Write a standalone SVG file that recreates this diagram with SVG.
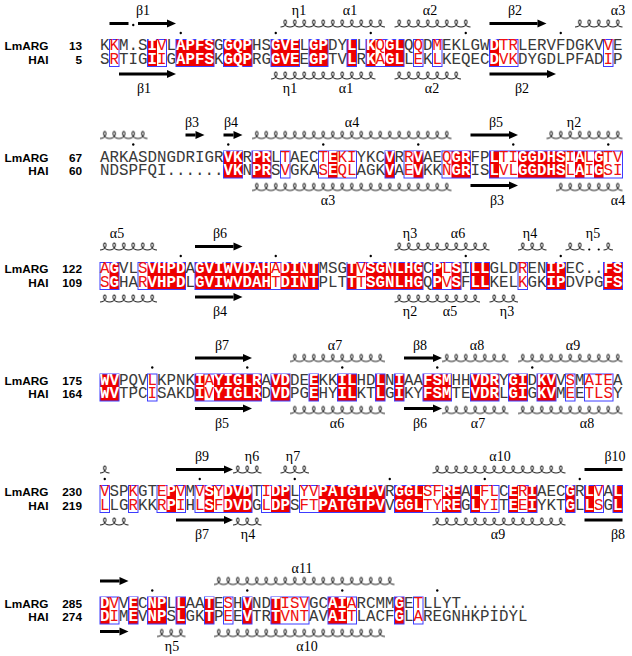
<svg xmlns="http://www.w3.org/2000/svg" width="632" height="656" viewBox="0 0 632 656">
<style>
.seq{font-family:"Liberation Mono","Courier New",monospace;font-size:15.83px;fill:#3a3a3a}
.s{fill:#f01010}
.w{fill:#fff;font-weight:bold}
.lab{font-family:"Liberation Sans",Arial,sans-serif;font-weight:bold;font-size:11.8px;fill:#000;text-anchor:end}
.ss{font-family:"Liberation Serif","Times New Roman",serif;font-size:14px;fill:#000;text-anchor:middle}
.id{fill:#ee0000}
.fr{fill:none;stroke:#3c3cff;stroke-width:1}
.a{stroke:#000;stroke-width:3}
.ct{fill:url(#cT)}
.cb{fill:url(#cB)}
.d{fill:#000}
</style>
<defs>
<pattern id="cT" patternUnits="userSpaceOnUse" x="100" y="18" width="9.5" height="12"><path d="M0,9c2.52,0 4.883,-1.667 5.675,-3.5c0.792,-1.833 0.011,-3.5 -0.925,-3.5c-0.936,0 -1.717,1.667 -0.925,3.5c0.792,1.833 3.155,3.5 5.675,3.5" fill="none" stroke="#222" stroke-width="1"/></pattern>
<pattern id="cB" patternUnits="userSpaceOnUse" x="100" y="70" width="9.5" height="12"><path d="M0,9c2.52,0 4.883,-1.667 5.675,-3.5c0.792,-1.833 0.011,-3.5 -0.925,-3.5c-0.936,0 -1.717,1.667 -0.925,3.5c0.792,1.833 3.155,3.5 5.675,3.5" fill="none" stroke="#222" stroke-width="1"/></pattern>
<marker id="ah" markerUnits="userSpaceOnUse" markerWidth="9" markerHeight="9" refX="0" refY="4.5" orient="auto" overflow="visible"><path d="M0,0.5L9,4.5L0,8.5z" fill="#000"/></marker>
</defs>
<rect width="632" height="656" fill="#fff"/>

<g id="block1">
<g class="id"><rect x="147.5" y="39.5" width="9.5" height="27"/><rect x="176" y="39.5" width="38" height="27"/><rect x="223.5" y="39.5" width="28.5" height="27"/><rect x="271" y="39.5" width="28.5" height="27"/><rect x="309" y="39.5" width="19" height="27"/><rect x="347" y="39.5" width="9.5" height="27"/><rect x="366" y="39.5" width="9.5" height="27"/><rect x="385" y="39.5" width="19" height="27"/><rect x="489.5" y="39.5" width="9.5" height="27"/></g>
<g class="fr"><rect x="109.5" y="39.5" width="9.5" height="27"/><rect x="147.5" y="39.5" width="19" height="27"/><rect x="176" y="39.5" width="38" height="27"/><rect x="223.5" y="39.5" width="28.5" height="27"/><rect x="271" y="39.5" width="28.5" height="27"/><rect x="309" y="39.5" width="19" height="27"/><rect x="347" y="39.5" width="9.5" height="27"/><rect x="366" y="39.5" width="38" height="27"/><rect x="413.5" y="39.5" width="9.5" height="27"/><rect x="432.5" y="39.5" width="9.5" height="27"/><rect x="489.5" y="39.5" width="28.5" height="27"/><rect x="603.5" y="39.5" width="9.5" height="27"/></g>
<text class="lab" x="48.5" y="50">LmARG</text><text class="lab" x="82" y="50">13</text>
<text class="lab" x="48.5" y="63.5">HAI</text><text class="lab" x="82" y="63.5">5</text>
<text class="seq" y="50"><tspan x="100">K</tspan><tspan x="109.5" class="s">K</tspan><tspan x="119">M.S</tspan><tspan x="147.5" class="w">I</tspan><tspan x="157" class="s">V</tspan><tspan x="166.5">L</tspan><tspan x="176" class="w">APFS</tspan><tspan x="214">G</tspan><tspan x="223.5" class="w">GQP</tspan><tspan x="252">HS</tspan><tspan x="271" class="w">GVE</tspan><tspan x="299.5">L</tspan><tspan x="309" class="w">GP</tspan><tspan x="328">DY</tspan><tspan x="347" class="w">L</tspan><tspan x="356.5">L</tspan><tspan x="366" class="w">K</tspan><tspan x="375.5" class="s">Q</tspan><tspan x="385" class="w">GL</tspan><tspan x="404">Q</tspan><tspan x="413.5" class="s">Q</tspan><tspan x="423">D</tspan><tspan x="432.5" class="s">M</tspan><tspan x="442">EKLGW</tspan><tspan x="489.5" class="w">D</tspan><tspan x="499" class="s">TR</tspan><tspan x="518">LERVFDGKV</tspan><tspan x="603.5" class="s">V</tspan><tspan x="613">E</tspan></text>
<text class="seq" y="63.5"><tspan x="100">S</tspan><tspan x="109.5" class="s">R</tspan><tspan x="119">TIG</tspan><tspan x="147.5" class="w">I</tspan><tspan x="157" class="s">I</tspan><tspan x="166.5">G</tspan><tspan x="176" class="w">APFS</tspan><tspan x="214">K</tspan><tspan x="223.5" class="w">GQP</tspan><tspan x="252">RG</tspan><tspan x="271" class="w">GVE</tspan><tspan x="299.5">E</tspan><tspan x="309" class="w">GP</tspan><tspan x="328">TV</tspan><tspan x="347" class="w">L</tspan><tspan x="356.5">R</tspan><tspan x="366" class="w">K</tspan><tspan x="375.5" class="s">A</tspan><tspan x="385" class="w">GL</tspan><tspan x="404">L</tspan><tspan x="413.5" class="s">E</tspan><tspan x="423">K</tspan><tspan x="432.5" class="s">L</tspan><tspan x="442">KEQEC</tspan><tspan x="489.5" class="w">D</tspan><tspan x="499" class="s">VK</tspan><tspan x="518">DYGDLPFAD</tspan><tspan x="603.5" class="s">I</tspan><tspan x="613">P</tspan></text>
<g class="d"><circle cx="180.75" cy="33" r="1.2"/><circle cx="275.75" cy="33" r="1.2"/><circle cx="370.75" cy="33" r="1.2"/><circle cx="465.75" cy="33" r="1.2"/><circle cx="560.75" cy="33" r="1.2"/><circle cx="133.25" cy="25" r="1.2"/></g>
<g class="sstop">
<line class="a" x1="109.5" y1="23.5" x2="128.5" y2="23.5"/>
<line class="a" x1="138" y1="23.5" x2="167" y2="23.5" marker-end="url(#ah)"/>
<rect class="ct" x="280.5" y="18" width="104.5" height="12"/>
<rect class="ct" x="394.5" y="18" width="76" height="12"/>
<line class="a" x1="489.5" y1="23.5" x2="537.5" y2="23.5" marker-end="url(#ah)"/>
<rect class="ct" x="575" y="18" width="47.5" height="12"/>
<text class="ss" x="143" y="15">β1</text><text class="ss" x="299" y="15">η1</text><text class="ss" x="350" y="15">α1</text><text class="ss" x="430" y="15">α2</text><text class="ss" x="515" y="15">β2</text><text class="ss" x="618" y="15">α3</text>
</g>
<g class="ssbot">
<line class="a" x1="119" y1="74" x2="167" y2="74" marker-end="url(#ah)"/>
<rect class="cb" x="271" y="70" width="104.5" height="12"/>
<rect class="cb" x="394.5" y="70" width="66.5" height="12"/>
<line class="a" x1="489.5" y1="74" x2="547" y2="74" marker-end="url(#ah)"/>
<text class="ss" x="144" y="93">β1</text><text class="ss" x="290" y="93">η1</text><text class="ss" x="346" y="93">α1</text><text class="ss" x="432" y="93">α2</text><text class="ss" x="522" y="93">β2</text>
</g>
</g>

<g id="block2" transform="translate(0,111.5)">
<g class="id"><rect x="223.5" y="39.5" width="19" height="27"/><rect x="252" y="39.5" width="19" height="27"/><rect x="328" y="39.5" width="9.5" height="27"/><rect x="385" y="39.5" width="9.5" height="27"/><rect x="413.5" y="39.5" width="9.5" height="27"/><rect x="451.5" y="39.5" width="19" height="27"/><rect x="489.5" y="39.5" width="9.5" height="27"/><rect x="518" y="39.5" width="47.5" height="27"/><rect x="575" y="39.5" width="9.5" height="27"/><rect x="594" y="39.5" width="9.5" height="27"/></g>
<g class="fr"><rect x="223.5" y="39.5" width="19" height="27"/><rect x="252" y="39.5" width="19" height="27"/><rect x="280.5" y="39.5" width="9.5" height="27"/><rect x="318.5" y="39.5" width="38" height="27"/><rect x="385" y="39.5" width="9.5" height="27"/><rect x="404" y="39.5" width="19" height="27"/><rect x="442" y="39.5" width="28.5" height="27"/><rect x="489.5" y="39.5" width="133" height="27"/></g>
<text class="lab" x="48.5" y="50">LmARG</text><text class="lab" x="82" y="50">67</text>
<text class="lab" x="48.5" y="63.5">HAI</text><text class="lab" x="82" y="63.5">60</text>
<text class="seq" y="50"><tspan x="100">ARKASDNGDRIGR</tspan><tspan x="223.5" class="w">VK</tspan><tspan x="242.5">R</tspan><tspan x="252" class="w">PR</tspan><tspan x="271">L</tspan><tspan x="280.5" class="s">T</tspan><tspan x="290">AEC</tspan><tspan x="318.5" class="s">T</tspan><tspan x="328" class="w">E</tspan><tspan x="337.5" class="s">KI</tspan><tspan x="356.5">YKC</tspan><tspan x="385" class="w">V</tspan><tspan x="394.5">R</tspan><tspan x="404" class="s">R</tspan><tspan x="413.5" class="w">V</tspan><tspan x="423">AE</tspan><tspan x="442" class="s">Q</tspan><tspan x="451.5" class="w">GR</tspan><tspan x="470.5">FP</tspan><tspan x="489.5" class="w">L</tspan><tspan x="499" class="s">TI</tspan><tspan x="518" class="w">GGDHS</tspan><tspan x="565.5" class="s">I</tspan><tspan x="575" class="w">A</tspan><tspan x="584.5" class="s">L</tspan><tspan x="594" class="w">G</tspan><tspan x="603.5" class="s">TV</tspan></text>
<text class="seq" y="63.5"><tspan x="100">NDSPFQI......</tspan><tspan x="223.5" class="w">VK</tspan><tspan x="242.5">N</tspan><tspan x="252" class="w">PR</tspan><tspan x="271">S</tspan><tspan x="280.5" class="s">V</tspan><tspan x="290">GKA</tspan><tspan x="318.5" class="s">S</tspan><tspan x="328" class="w">E</tspan><tspan x="337.5" class="s">QL</tspan><tspan x="356.5">AGK</tspan><tspan x="385" class="w">V</tspan><tspan x="394.5">A</tspan><tspan x="404" class="s">E</tspan><tspan x="413.5" class="w">V</tspan><tspan x="423">KK</tspan><tspan x="442" class="s">N</tspan><tspan x="451.5" class="w">GR</tspan><tspan x="470.5">IS</tspan><tspan x="489.5" class="w">L</tspan><tspan x="499" class="s">VL</tspan><tspan x="518" class="w">GGDHS</tspan><tspan x="565.5" class="s">L</tspan><tspan x="575" class="w">A</tspan><tspan x="584.5" class="s">I</tspan><tspan x="594" class="w">G</tspan><tspan x="603.5" class="s">SI</tspan></text>
<g class="d"><circle cx="133.25" cy="33" r="1.2"/><circle cx="228.25" cy="33" r="1.2"/><circle cx="323.25" cy="33" r="1.2"/><circle cx="418.25" cy="33" r="1.2"/><circle cx="513.25" cy="33" r="1.2"/><circle cx="608.25" cy="33" r="1.2"/></g>
<g class="sstop">
<rect class="ct" x="100" y="18" width="47.5" height="12"/>
<line class="a" x1="185.5" y1="23.5" x2="195.5" y2="23.5" marker-end="url(#ah)"/>
<line class="a" x1="223.5" y1="23.5" x2="233.5" y2="23.5" marker-end="url(#ah)"/>
<rect class="ct" x="252" y="18" width="199.5" height="12"/>
<line class="a" x1="470.5" y1="23.5" x2="509" y2="23.5" marker-end="url(#ah)"/>
<rect class="ct" x="546.5" y="18" width="76" height="12"/>
<text class="ss" x="192" y="15">β3</text><text class="ss" x="231" y="15">β4</text><text class="ss" x="352" y="15">α4</text><text class="ss" x="496" y="15">β5</text><text class="ss" x="574" y="15">η2</text>
</g>
<g class="ssbot">
<rect class="cb" x="252" y="70" width="199.5" height="12"/>
<line class="a" x1="470.5" y1="74" x2="509" y2="74" marker-end="url(#ah)"/>
<rect class="cb" x="556" y="70" width="66.5" height="12"/>
<text class="ss" x="328" y="93">α3</text><text class="ss" x="497" y="93">β3</text><text class="ss" x="618" y="93">α4</text>
</g>
</g>

<g id="block3" transform="translate(0,223)">
<g class="id"><rect x="109.5" y="39.5" width="9.5" height="27"/><rect x="147.5" y="39.5" width="38" height="27"/><rect x="195" y="39.5" width="76" height="27"/><rect x="280.5" y="39.5" width="38" height="27"/><rect x="347" y="39.5" width="9.5" height="27"/><rect x="366" y="39.5" width="57" height="27"/><rect x="432.5" y="39.5" width="9.5" height="27"/><rect x="451.5" y="39.5" width="9.5" height="27"/><rect x="470.5" y="39.5" width="19" height="27"/><rect x="546.5" y="39.5" width="19" height="27"/><rect x="603.5" y="39.5" width="19" height="27"/></g>
<g class="fr"><rect x="100" y="39.5" width="19" height="27"/><rect x="138" y="39.5" width="47.5" height="27"/><rect x="195" y="39.5" width="123.5" height="27"/><rect x="347" y="39.5" width="76" height="27"/><rect x="432.5" y="39.5" width="28.5" height="27"/><rect x="470.5" y="39.5" width="19" height="27"/><rect x="518" y="39.5" width="9.5" height="27"/><rect x="546.5" y="39.5" width="19" height="27"/><rect x="603.5" y="39.5" width="19" height="27"/></g>
<text class="lab" x="48.5" y="50">LmARG</text><text class="lab" x="82" y="50">122</text>
<text class="lab" x="48.5" y="63.5">HAI</text><text class="lab" x="82" y="63.5">109</text>
<text class="seq" y="50"><tspan x="100" class="s">A</tspan><tspan x="109.5" class="w">G</tspan><tspan x="119">VL</tspan><tspan x="138" class="s">S</tspan><tspan x="147.5" class="w">VHPD</tspan><tspan x="185.5">A</tspan><tspan x="195" class="w">GVIWVDAH</tspan><tspan x="271" class="s">A</tspan><tspan x="280.5" class="w">DINT</tspan><tspan x="318.5">MSG</tspan><tspan x="347" class="w">T</tspan><tspan x="356.5" class="s">V</tspan><tspan x="366" class="w">SGNLHG</tspan><tspan x="423">C</tspan><tspan x="432.5" class="w">P</tspan><tspan x="442" class="s">L</tspan><tspan x="451.5" class="w">S</tspan><tspan x="461">I</tspan><tspan x="470.5" class="w">LL</tspan><tspan x="489.5">GLD</tspan><tspan x="518" class="s">R</tspan><tspan x="527.5">EN</tspan><tspan x="546.5" class="w">IP</tspan><tspan x="565.5">EC..</tspan><tspan x="603.5" class="w">FS</tspan></text>
<text class="seq" y="63.5"><tspan x="100" class="s">S</tspan><tspan x="109.5" class="w">G</tspan><tspan x="119">HA</tspan><tspan x="138" class="s">R</tspan><tspan x="147.5" class="w">VHPD</tspan><tspan x="185.5">L</tspan><tspan x="195" class="w">GVIWVDAH</tspan><tspan x="271" class="s">T</tspan><tspan x="280.5" class="w">DINT</tspan><tspan x="318.5">PLT</tspan><tspan x="347" class="w">T</tspan><tspan x="356.5" class="s">T</tspan><tspan x="366" class="w">SGNLHG</tspan><tspan x="423">Q</tspan><tspan x="432.5" class="w">P</tspan><tspan x="442" class="s">V</tspan><tspan x="451.5" class="w">S</tspan><tspan x="461">F</tspan><tspan x="470.5" class="w">LL</tspan><tspan x="489.5">KEL</tspan><tspan x="518" class="s">K</tspan><tspan x="527.5">GK</tspan><tspan x="546.5" class="w">IP</tspan><tspan x="565.5">DVPG</tspan><tspan x="603.5" class="w">FS</tspan></text>
<g class="d"><circle cx="180.75" cy="33" r="1.2"/><circle cx="275.75" cy="33" r="1.2"/><circle cx="370.75" cy="33" r="1.2"/><circle cx="465.75" cy="33" r="1.2"/><circle cx="560.75" cy="33" r="1.2"/><circle cx="589.25" cy="26.5" r="1.1"/><circle cx="598.75" cy="26.5" r="1.1"/></g>
<g class="sstop">
<rect class="ct" x="100" y="18" width="57" height="12"/>
<line class="a" x1="195" y1="23.5" x2="233.5" y2="23.5" marker-end="url(#ah)"/>
<rect class="ct" x="394.5" y="18" width="95" height="12"/>
<rect class="ct" x="518" y="18" width="28.5" height="12"/>
<rect class="ct" x="565.5" y="18" width="19" height="12"/>
<rect class="ct" x="603.5" y="18" width="9.5" height="12"/>
<text class="ss" x="117" y="15">α5</text><text class="ss" x="220" y="15">β6</text><text class="ss" x="410" y="15">η3</text><text class="ss" x="458" y="15">α6</text><text class="ss" x="530" y="15">η4</text><text class="ss" x="593" y="15">η5</text>
</g>
<g class="ssbot">
<rect class="cb" x="100" y="70" width="57" height="12"/>
<line class="a" x1="195" y1="74" x2="233.5" y2="74" marker-end="url(#ah)"/>
<rect class="cb" x="394.5" y="70" width="85.5" height="12"/>
<rect class="cb" x="489.5" y="70" width="28.5" height="12"/>
<text class="ss" x="220" y="93">β4</text><text class="ss" x="410" y="93">η2</text><text class="ss" x="450" y="93">α5</text><text class="ss" x="507" y="93">η3</text>
</g>
</g>

<g id="block4" transform="translate(0,334.5)">
<g class="id"><rect x="100" y="39.5" width="19" height="27"/><rect x="195" y="39.5" width="9.5" height="27"/><rect x="214" y="39.5" width="47.5" height="27"/><rect x="271" y="39.5" width="19" height="27"/><rect x="309" y="39.5" width="9.5" height="27"/><rect x="337.5" y="39.5" width="19" height="27"/><rect x="375.5" y="39.5" width="9.5" height="27"/><rect x="394.5" y="39.5" width="9.5" height="27"/><rect x="423" y="39.5" width="28.5" height="27"/><rect x="470.5" y="39.5" width="28.5" height="27"/><rect x="508.5" y="39.5" width="19" height="27"/><rect x="537" y="39.5" width="19" height="27"/></g>
<g class="fr"><rect x="100" y="39.5" width="19" height="27"/><rect x="147.5" y="39.5" width="9.5" height="27"/><rect x="195" y="39.5" width="66.5" height="27"/><rect x="271" y="39.5" width="19" height="27"/><rect x="309" y="39.5" width="9.5" height="27"/><rect x="337.5" y="39.5" width="19" height="27"/><rect x="375.5" y="39.5" width="9.5" height="27"/><rect x="394.5" y="39.5" width="9.5" height="27"/><rect x="423" y="39.5" width="28.5" height="27"/><rect x="470.5" y="39.5" width="28.5" height="27"/><rect x="508.5" y="39.5" width="19" height="27"/><rect x="537" y="39.5" width="19" height="27"/><rect x="565.5" y="39.5" width="9.5" height="27"/><rect x="584.5" y="39.5" width="28.5" height="27"/></g>
<text class="lab" x="48.5" y="50">LmARG</text><text class="lab" x="82" y="50">175</text>
<text class="lab" x="48.5" y="63.5">HAI</text><text class="lab" x="82" y="63.5">164</text>
<text class="seq" y="50"><tspan x="100" class="w">WV</tspan><tspan x="119">PQV</tspan><tspan x="147.5" class="s">L</tspan><tspan x="157">KPNK</tspan><tspan x="195" class="w">I</tspan><tspan x="204.5" class="s">A</tspan><tspan x="214" class="w">YIGLR</tspan><tspan x="261.5">A</tspan><tspan x="271" class="w">VD</tspan><tspan x="290">DE</tspan><tspan x="309" class="w">E</tspan><tspan x="318.5">KK</tspan><tspan x="337.5" class="w">IL</tspan><tspan x="356.5">HD</tspan><tspan x="375.5" class="w">L</tspan><tspan x="385">N</tspan><tspan x="394.5" class="w">I</tspan><tspan x="404">AA</tspan><tspan x="423" class="w">FSM</tspan><tspan x="451.5">HH</tspan><tspan x="470.5" class="w">VDR</tspan><tspan x="499">Y</tspan><tspan x="508.5" class="w">GI</tspan><tspan x="527.5">D</tspan><tspan x="537" class="w">KV</tspan><tspan x="556">V</tspan><tspan x="565.5" class="s">S</tspan><tspan x="575">M</tspan><tspan x="584.5" class="s">AIE</tspan><tspan x="613">A</tspan></text>
<text class="seq" y="63.5"><tspan x="100" class="w">WV</tspan><tspan x="119">TPC</tspan><tspan x="147.5" class="s">I</tspan><tspan x="157">SAKD</tspan><tspan x="195" class="w">I</tspan><tspan x="204.5" class="s">V</tspan><tspan x="214" class="w">YIGLR</tspan><tspan x="261.5">D</tspan><tspan x="271" class="w">VD</tspan><tspan x="290">PG</tspan><tspan x="309" class="w">E</tspan><tspan x="318.5">HY</tspan><tspan x="337.5" class="w">IL</tspan><tspan x="356.5">KT</tspan><tspan x="375.5" class="w">L</tspan><tspan x="385">G</tspan><tspan x="394.5" class="w">I</tspan><tspan x="404">KY</tspan><tspan x="423" class="w">FSM</tspan><tspan x="451.5">TE</tspan><tspan x="470.5" class="w">VDR</tspan><tspan x="499">L</tspan><tspan x="508.5" class="w">GI</tspan><tspan x="527.5">G</tspan><tspan x="537" class="w">KV</tspan><tspan x="556">M</tspan><tspan x="565.5" class="s">E</tspan><tspan x="575">E</tspan><tspan x="584.5" class="s">TLS</tspan><tspan x="613">Y</tspan></text>
<g class="d"><circle cx="152.25" cy="33" r="1.2"/><circle cx="247.25" cy="33" r="1.2"/><circle cx="342.25" cy="33" r="1.2"/><circle cx="437.25" cy="33" r="1.2"/><circle cx="532.25" cy="33" r="1.2"/></g>
<g class="sstop">
<line class="a" x1="195" y1="23.5" x2="243" y2="23.5" marker-end="url(#ah)"/>
<rect class="ct" x="290" y="18" width="95" height="12"/>
<line class="a" x1="404" y1="23.5" x2="433" y2="23.5" marker-end="url(#ah)"/>
<rect class="ct" x="442" y="18" width="66.5" height="12"/>
<rect class="ct" x="518" y="18" width="104.5" height="12"/>
<text class="ss" x="222" y="15">β7</text><text class="ss" x="335" y="15">α7</text><text class="ss" x="420" y="15">β8</text><text class="ss" x="477" y="15">α8</text><text class="ss" x="573" y="15">α9</text>
</g>
<g class="ssbot">
<line class="a" x1="195" y1="74" x2="243" y2="74" marker-end="url(#ah)"/>
<rect class="cb" x="290" y="70" width="95" height="12"/>
<line class="a" x1="404" y1="74" x2="433" y2="74" marker-end="url(#ah)"/>
<rect class="cb" x="442" y="70" width="66.5" height="12"/>
<rect class="cb" x="518" y="70" width="104.5" height="12"/>
<text class="ss" x="222" y="93">β5</text><text class="ss" x="337" y="93">α6</text><text class="ss" x="420" y="93">β6</text><text class="ss" x="478" y="93">α7</text><text class="ss" x="587" y="93">α8</text>
</g>
</g>

<g id="block5" transform="translate(0,446)">
<g class="id"><rect x="166.5" y="39.5" width="9.5" height="27"/><rect x="204.5" y="39.5" width="9.5" height="27"/><rect x="223.5" y="39.5" width="28.5" height="27"/><rect x="271" y="39.5" width="19" height="27"/><rect x="318.5" y="39.5" width="66.5" height="27"/><rect x="394.5" y="39.5" width="28.5" height="27"/><rect x="442" y="39.5" width="19" height="27"/><rect x="470.5" y="39.5" width="9.5" height="27"/><rect x="508.5" y="39.5" width="9.5" height="27"/><rect x="527.5" y="39.5" width="9.5" height="27"/><rect x="565.5" y="39.5" width="9.5" height="27"/><rect x="584.5" y="39.5" width="9.5" height="27"/><rect x="613" y="39.5" width="9.5" height="27"/></g>
<g class="fr"><rect x="100" y="39.5" width="9.5" height="27"/><rect x="128.5" y="39.5" width="9.5" height="27"/><rect x="157" y="39.5" width="28.5" height="27"/><rect x="195" y="39.5" width="57" height="27"/><rect x="261.5" y="39.5" width="28.5" height="27"/><rect x="299.5" y="39.5" width="85.5" height="27"/><rect x="394.5" y="39.5" width="66.5" height="27"/><rect x="470.5" y="39.5" width="28.5" height="27"/><rect x="508.5" y="39.5" width="28.5" height="27"/><rect x="565.5" y="39.5" width="9.5" height="27"/><rect x="584.5" y="39.5" width="19" height="27"/><rect x="613" y="39.5" width="9.5" height="27"/></g>
<text class="lab" x="48.5" y="50">LmARG</text><text class="lab" x="82" y="50">230</text>
<text class="lab" x="48.5" y="63.5">HAI</text><text class="lab" x="82" y="63.5">219</text>
<text class="seq" y="50"><tspan x="100" class="s">V</tspan><tspan x="109.5">SP</tspan><tspan x="128.5" class="s">K</tspan><tspan x="138">GT</tspan><tspan x="157" class="s">E</tspan><tspan x="166.5" class="w">P</tspan><tspan x="176" class="s">V</tspan><tspan x="185.5">M</tspan><tspan x="195" class="s">V</tspan><tspan x="204.5" class="w">S</tspan><tspan x="214" class="s">Y</tspan><tspan x="223.5" class="w">DVD</tspan><tspan x="252">T</tspan><tspan x="261.5" class="s">I</tspan><tspan x="271" class="w">DP</tspan><tspan x="290">L</tspan><tspan x="299.5" class="s">YV</tspan><tspan x="318.5" class="w">PATGTPV</tspan><tspan x="385">R</tspan><tspan x="394.5" class="w">GGL</tspan><tspan x="423" class="s">SF</tspan><tspan x="442" class="w">RE</tspan><tspan x="461">A</tspan><tspan x="470.5" class="w">L</tspan><tspan x="480" class="s">FL</tspan><tspan x="499">C</tspan><tspan x="508.5" class="w">E</tspan><tspan x="518" class="s">R</tspan><tspan x="527.5" class="w">I</tspan><tspan x="537">AEC</tspan><tspan x="565.5" class="w">G</tspan><tspan x="575">R</tspan><tspan x="584.5" class="w">L</tspan><tspan x="594" class="s">V</tspan><tspan x="603.5">A</tspan><tspan x="613" class="w">L</tspan></text>
<text class="seq" y="63.5"><tspan x="100" class="s">L</tspan><tspan x="109.5">LG</tspan><tspan x="128.5" class="s">R</tspan><tspan x="138">KK</tspan><tspan x="157" class="s">R</tspan><tspan x="166.5" class="w">P</tspan><tspan x="176" class="s">I</tspan><tspan x="185.5">H</tspan><tspan x="195" class="s">L</tspan><tspan x="204.5" class="w">S</tspan><tspan x="214" class="s">F</tspan><tspan x="223.5" class="w">DVD</tspan><tspan x="252">G</tspan><tspan x="261.5" class="s">L</tspan><tspan x="271" class="w">DP</tspan><tspan x="290">S</tspan><tspan x="299.5" class="s">FT</tspan><tspan x="318.5" class="w">PATGTPV</tspan><tspan x="385">V</tspan><tspan x="394.5" class="w">GGL</tspan><tspan x="423" class="s">TY</tspan><tspan x="442" class="w">RE</tspan><tspan x="461">G</tspan><tspan x="470.5" class="w">L</tspan><tspan x="480" class="s">YI</tspan><tspan x="499">T</tspan><tspan x="508.5" class="w">E</tspan><tspan x="518" class="s">E</tspan><tspan x="527.5" class="w">I</tspan><tspan x="537">YKT</tspan><tspan x="565.5" class="w">G</tspan><tspan x="575">L</tspan><tspan x="584.5" class="w">L</tspan><tspan x="594" class="s">S</tspan><tspan x="603.5">G</tspan><tspan x="613" class="w">L</tspan></text>
<g class="d"><circle cx="104.75" cy="33" r="1.2"/><circle cx="199.75" cy="33" r="1.2"/><circle cx="294.75" cy="33" r="1.2"/><circle cx="389.75" cy="33" r="1.2"/><circle cx="484.75" cy="33" r="1.2"/><circle cx="579.75" cy="33" r="1.2"/></g>
<g class="sstop">
<rect class="ct" x="100" y="18" width="9.5" height="12"/>
<line class="a" x1="176" y1="23.5" x2="224" y2="23.5" marker-end="url(#ah)"/>
<rect class="ct" x="233" y="18" width="28.5" height="12"/>
<rect class="ct" x="280.5" y="18" width="28.5" height="12"/>
<rect class="ct" x="432.5" y="18" width="133" height="12"/>
<line class="a" x1="584.5" y1="23.5" x2="622.5" y2="23.5"/>
<text class="ss" x="202" y="15">β9</text><text class="ss" x="252" y="15">η6</text><text class="ss" x="293" y="15">η7</text><text class="ss" x="500" y="15">α10</text><text class="ss" x="615" y="15">β10</text>
</g>
<g class="ssbot">
<rect class="cb" x="100" y="70" width="28.5" height="12"/>
<line class="a" x1="176" y1="74" x2="224" y2="74" marker-end="url(#ah)"/>
<rect class="cb" x="233" y="70" width="28.5" height="12"/>
<rect class="cb" x="432.5" y="70" width="133" height="12"/>
<line class="a" x1="584.5" y1="74" x2="622.5" y2="74"/>
<text class="ss" x="202" y="93">β7</text><text class="ss" x="248" y="93">η4</text><text class="ss" x="498" y="93">α9</text><text class="ss" x="618" y="93">β8</text>
</g>
</g>

<g id="block6" transform="translate(0,557.5)">
<g class="id"><rect x="100" y="39.5" width="9.5" height="27"/><rect x="128.5" y="39.5" width="9.5" height="27"/><rect x="147.5" y="39.5" width="19" height="27"/><rect x="176" y="39.5" width="9.5" height="27"/><rect x="204.5" y="39.5" width="9.5" height="27"/><rect x="242.5" y="39.5" width="9.5" height="27"/><rect x="271" y="39.5" width="9.5" height="27"/><rect x="328" y="39.5" width="19" height="27"/><rect x="394.5" y="39.5" width="9.5" height="27"/></g>
<g class="fr"><rect x="100" y="39.5" width="19" height="27"/><rect x="128.5" y="39.5" width="9.5" height="27"/><rect x="147.5" y="39.5" width="19" height="27"/><rect x="176" y="39.5" width="9.5" height="27"/><rect x="204.5" y="39.5" width="9.5" height="27"/><rect x="223.5" y="39.5" width="9.5" height="27"/><rect x="242.5" y="39.5" width="9.5" height="27"/><rect x="271" y="39.5" width="38" height="27"/><rect x="328" y="39.5" width="28.5" height="27"/><rect x="394.5" y="39.5" width="9.5" height="27"/><rect x="413.5" y="39.5" width="9.5" height="27"/></g>
<text class="lab" x="48.5" y="50">LmARG</text><text class="lab" x="82" y="50">285</text>
<text class="lab" x="48.5" y="63.5">HAI</text><text class="lab" x="82" y="63.5">274</text>
<text class="seq" y="50"><tspan x="100" class="w">D</tspan><tspan x="109.5" class="s">V</tspan><tspan x="119">V</tspan><tspan x="128.5" class="w">E</tspan><tspan x="138">C</tspan><tspan x="147.5" class="w">NP</tspan><tspan x="166.5">L</tspan><tspan x="176" class="w">L</tspan><tspan x="185.5">AA</tspan><tspan x="204.5" class="w">T</tspan><tspan x="214">E</tspan><tspan x="223.5" class="s">S</tspan><tspan x="233">H</tspan><tspan x="242.5" class="w">V</tspan><tspan x="252">ND</tspan><tspan x="271" class="w">T</tspan><tspan x="280.5" class="s">ISV</tspan><tspan x="309">GC</tspan><tspan x="328" class="w">AI</tspan><tspan x="347" class="s">A</tspan><tspan x="356.5">RCMM</tspan><tspan x="394.5" class="w">G</tspan><tspan x="404">E</tspan><tspan x="413.5" class="s">T</tspan><tspan x="423">LLYT.......</tspan></text>
<text class="seq" y="63.5"><tspan x="100" class="w">D</tspan><tspan x="109.5" class="s">I</tspan><tspan x="119">M</tspan><tspan x="128.5" class="w">E</tspan><tspan x="138">V</tspan><tspan x="147.5" class="w">NP</tspan><tspan x="166.5">S</tspan><tspan x="176" class="w">L</tspan><tspan x="185.5">GK</tspan><tspan x="204.5" class="w">T</tspan><tspan x="214">P</tspan><tspan x="223.5" class="s">E</tspan><tspan x="233">E</tspan><tspan x="242.5" class="w">V</tspan><tspan x="252">TR</tspan><tspan x="271" class="w">T</tspan><tspan x="280.5" class="s">VNT</tspan><tspan x="309">AV</tspan><tspan x="328" class="w">AI</tspan><tspan x="347" class="s">T</tspan><tspan x="356.5">LACF</tspan><tspan x="394.5" class="w">G</tspan><tspan x="404">L</tspan><tspan x="413.5" class="s">A</tspan><tspan x="423">REGNHKPIDYL</tspan></text>
<g class="d"><circle cx="152.25" cy="33" r="1.2"/><circle cx="247.25" cy="33" r="1.2"/><circle cx="342.25" cy="33" r="1.2"/><circle cx="437.25" cy="33" r="1.2"/></g>
<g class="sstop">
<line class="a" x1="100" y1="23.5" x2="119.5" y2="23.5" marker-end="url(#ah)"/>
<rect class="ct" x="214" y="18" width="180.5" height="12"/>
<text class="ss" x="302" y="15">α11</text>
</g>
<g class="ssbot">
<line class="a" x1="100" y1="74" x2="119.5" y2="74" marker-end="url(#ah)"/>
<rect class="cb" x="157" y="70" width="28.5" height="12"/>
<rect class="cb" x="214" y="70" width="171" height="12"/>
<text class="ss" x="172" y="93">η5</text><text class="ss" x="307" y="93">α10</text>
</g>
</g>
</svg>
